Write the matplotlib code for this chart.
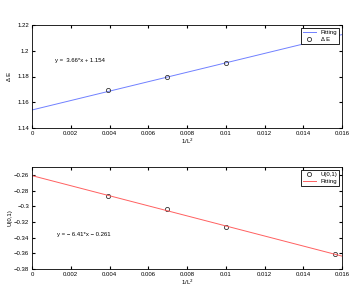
import numpy as np
import matplotlib.pyplot as plt

# 1/L^2 values
inv_L2 = [1 / 256, 1 / 144, 1 / 100, 1 / 64]
delta_E = [1.1696, 1.1795, 1.1907, 1.2113]
U01 = [-0.2875, -0.3035, -0.3265, -0.3610]

fit_x = [0, 0.016]
slope_E, icpt_E = 3.66, 1.154
slope_U, icpt_U = -6.41, -0.261

xtick_lbls = ['0', '0.002', '0.004', '0.006', '0.008', '0.01',
              '0.012', '0.014', '0.016']

plt.rcParams['font.family'] = 'Liberation Sans'
plt.rcParams['font.size'] = 4.3
plt.rcParams['xtick.direction'] = 'in'
plt.rcParams['ytick.direction'] = 'in'
plt.rcParams['xtick.top'] = True
plt.rcParams['ytick.right'] = True
plt.rcParams['xtick.major.size'] = 2.5
plt.rcParams['ytick.major.size'] = 2.5
plt.rcParams['xtick.major.pad'] = 2
plt.rcParams['ytick.major.pad'] = 2
plt.rcParams['axes.linewidth'] = 0.6

fig = plt.figure(figsize=(3.54, 2.92), dpi=100)
ax1 = fig.add_axes([32 / 354, 1 - 128 / 292, 310 / 354, 103 / 292])
ax2 = fig.add_axes([32 / 354, 1 - 269 / 292, 310 / 354, 102 / 292])

fx = np.array(fit_x)
ax1.plot(fx, slope_E * fx + icpt_E, color='#7080ff', lw=0.7, label='Fitting')
ax1.plot(inv_L2, delta_E, 'o', mfc='none', mec='#333333', ms=3, mew=0.6,
         label='\u0394 E')
ax1.set_xlim(0, 0.016)
ax1.set_ylim(1.14, 1.22)
ax1.set_xticks(np.arange(0, 0.0161, 0.002))
ax1.set_xticklabels(xtick_lbls)
ax1.set_yticks([1.14, 1.16, 1.18, 1.2, 1.22])
ax1.set_yticklabels(['1.14', '1.16', '1.18', '1.2', '1.22'])
ax1.set_xlabel('1/L$^2$', labelpad=1)
ax1.set_ylabel('\u0394 E', labelpad=4)
ax1.text(0.0012, 1.191, 'y =  3.66*x + 1.154')
leg = ax1.legend(loc='upper right', fancybox=False, edgecolor='black',
                 framealpha=1, borderaxespad=0.5, handlelength=2.2,
                 borderpad=0.3, labelspacing=0.3)
leg.get_frame().set_linewidth(0.6)

ax2.plot(inv_L2, U01, 'o', mfc='none', mec='#333333', ms=3, mew=0.6,
         label='U(0,1)')
ax2.plot(fx, slope_U * fx + icpt_U, color='#ff6060', lw=0.7, label='Fitting')
ax2.set_xlim(0, 0.016)
ax2.set_ylim(-0.38, -0.25)
ax2.set_xticks(np.arange(0, 0.0161, 0.002))
ax2.set_xticklabels(xtick_lbls)
ax2.set_yticks([-0.38, -0.36, -0.34, -0.32, -0.3, -0.28, -0.26])
ax2.set_yticklabels(['\u22120.38', '\u22120.36', '\u22120.34', '\u22120.32',
                     '\u22120.3', '\u22120.28', '\u22120.26'])
ax2.set_xlabel('1/L$^2$', labelpad=1)
ax2.set_ylabel('U(0,1)', labelpad=1)
ax2.text(0.0013, -0.338, 'y = \u2212 6.41*x \u2212 0.261')
leg2 = ax2.legend(loc='upper right', fancybox=False, edgecolor='black',
                  framealpha=1, borderaxespad=0.5, handlelength=2.2,
                  borderpad=0.3, labelspacing=0.3)
leg2.get_frame().set_linewidth(0.6)

plt.savefig('out.png', dpi=100)
